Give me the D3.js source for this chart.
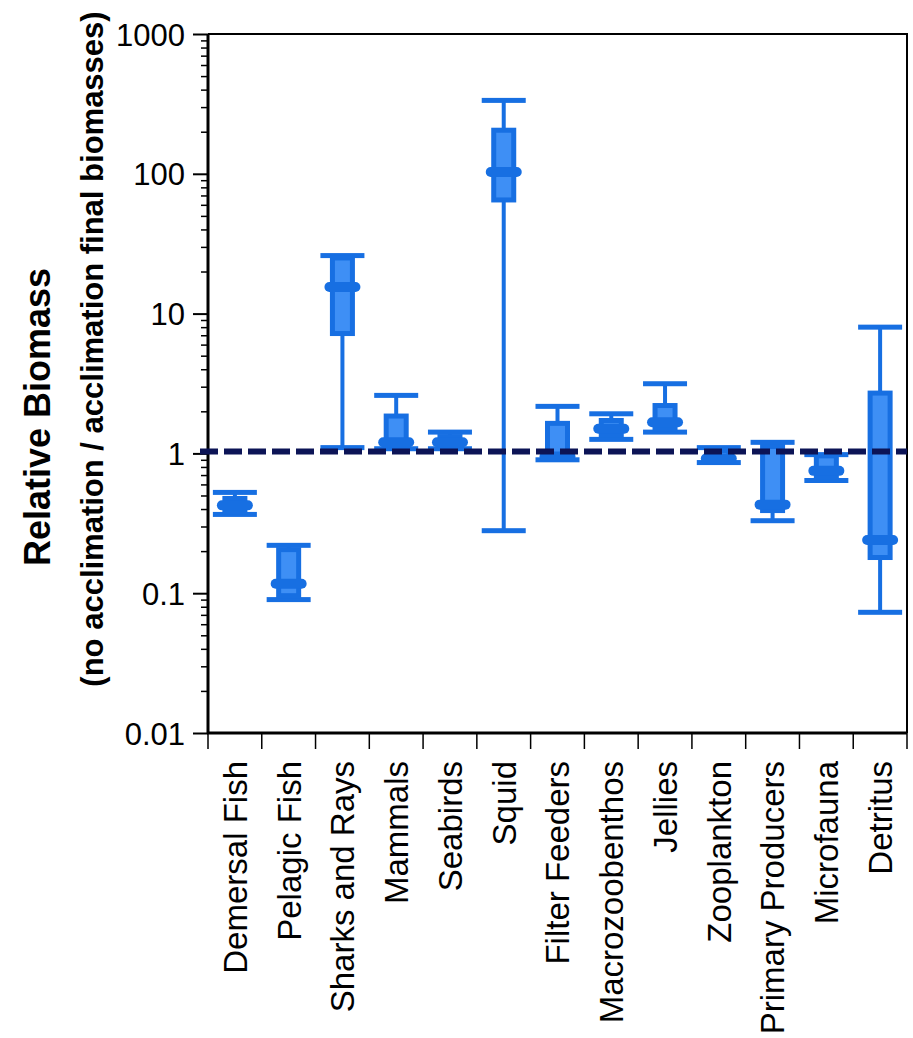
<!DOCTYPE html>
<meta charset="utf-8">
<style>
body { margin: 0; background: #fff; }
text { font-family: "Liberation Sans", Arial, Helvetica, sans-serif; fill: #000; }
.tick-label { font-size: 31px; }
.cat-label { font-size: 33px; }
.y-title { font-weight: bold; }
</style>
<svg width="913" height="1038"></svg>
<script src="https://cdn.jsdelivr.net/npm/d3@7"></script>
<script>

// data
var categories = ["Demersal Fish", "Pelagic Fish", "Sharks and Rays", "Mammals", "Seabirds", "Squid",
  "Filter Feeders", "Macrozoobenthos", "Jellies", "Zooplankton", "Primary Producers", "Microfauna", "Detritus"];
var whiskerLow  = [0.366, 0.090, 1.10, 1.08, 1.08, 0.28, 0.90, 1.26, 1.42, 0.86, 0.33, 0.64, 0.073];
var q1          = [0.378, 0.096, 7.2,  1.12, 1.12, 65,   0.92, 1.36, 1.50, 0.87, 0.39, 0.68, 0.18];
var median      = [0.425, 0.117, 15.5, 1.20, 1.20, 103,  0.95, 1.50, 1.67, 0.92, 0.43, 0.75, 0.24];
var q3          = [0.476, 0.205, 25,   1.85, 1.32, 205,  1.64, 1.72, 2.20, 1.05, 1.12, 0.96, 2.7];
var whiskerHigh = [0.526, 0.22,  26,   2.6,  1.42, 335,  2.17, 1.92, 3.15, 1.10, 1.20, 0.98, 8];
var yTickValues = [0.01, 0.1, 1, 10, 100, 1000];
var yTickLabels = ["0.01", "0.1", "1", "10", "100", "1000"];
var referenceLine = 1;

var svg = d3.select("svg"),
    plotLeft = 208, plotRight = 907, plotTop = 34, plotBottom = 733;

var dark = "#176fe2",
    light = "#3e8ff5";

var x = d3.scaleBand().domain(categories).range([plotLeft, plotRight]).padding(0);
var y = d3.scaleLog().domain([0.01, 1000]).range([plotBottom, plotTop]);

var boxes = categories.map(function(c, i) {
  return {name: c, lo: whiskerLow[i], q1: q1[i], med: median[i], q3: q3[i], hi: whiskerHigh[i]};
});

// frame (top + right)
svg.append("path")
    .attr("d", "M" + plotLeft + "," + plotTop + "H" + plotRight + "V" + plotBottom)
    .attr("fill", "none")
    .attr("stroke", "#000")
    .attr("stroke-width", 2);

// minor ticks
var minor = [];
yTickValues.slice(0, -1).forEach(function(d) {
  for (var k = 2; k < 10; k++) minor.push(d * k);
});

svg.append("g")
    .attr("transform", "translate(" + plotLeft + ",0)")
    .call(d3.axisLeft(y).tickValues(minor).tickSize(7).tickFormat(""))
    .call(function(g) { g.select(".domain").remove(); })
    .selectAll("line").attr("stroke-width", 1.5);

var yAxis = svg.append("g")
    .attr("transform", "translate(" + plotLeft + ",0)")
    .call(d3.axisLeft(y).tickValues(yTickValues).tickSize(15).tickPadding(8)
      .tickFormat(function(d, i) { return yTickLabels[i]; }));
yAxis.select(".domain").attr("stroke-width", 3).attr("d", "M0," + (plotBottom + 1) + "V" + plotTop);
yAxis.selectAll("line").attr("stroke-width", 2);
yAxis.selectAll("text").attr("class", "tick-label").attr("font-size", null).attr("font-family", null)
    .attr("dy", "0.36em");

// x axis
var xAxis = svg.append("g")
    .attr("transform", "translate(0," + plotBottom + ")")
    .call(d3.axisBottom(x).tickSize(0).tickPadding(0));
xAxis.select(".domain").attr("stroke-width", 3).attr("d", "M" + (plotLeft - 1) + ",0H" + plotRight);
xAxis.selectAll("text")
    .attr("class", "cat-label")
    .attr("font-size", null).attr("font-family", null)
    .attr("transform", "rotate(-90)")
    .attr("text-anchor", "end")
    .attr("x", -28)
    .attr("y", 0)
    .attr("dy", "0.36em");

xAxis.selectAll(".bound")
    .data(categories.map(function(c) { return x(c); }).concat([plotRight]))
  .enter().append("line")
    .attr("class", "bound")
    .attr("x1", function(d) { return d; })
    .attr("x2", function(d) { return d; })
    .attr("y1", 0)
    .attr("y2", 16)
    .attr("stroke", "#000")
    .attr("stroke-width", 1.5);

// y title
var title = svg.append("g")
    .attr("transform", "rotate(-90)");
title.append("text")
    .attr("class", "y-title")
    .attr("x", -417)
    .attr("y", 50)
    .attr("text-anchor", "middle")
    .attr("font-size", 36)
    .text("Relative Biomass");
title.append("text")
    .attr("class", "y-title")
    .attr("x", -349)
    .attr("y", 103)
    .attr("text-anchor", "middle")
    .attr("font-size", 31)
    .text("(no acclimation / acclimation final biomasses)");

// boxes
var capW = 44, boxW = 20, medW = 36, medH = 10;

var box = svg.append("g").selectAll("g")
    .data(boxes)
  .enter().append("g")
    .attr("transform", function(d) { return "translate(" + (x(d.name) + x.bandwidth() / 2) + ",0)"; });

box.append("line")
    .attr("y1", function(d) { return y(d.lo); })
    .attr("y2", function(d) { return y(d.hi); })
    .attr("stroke", dark)
    .attr("stroke-width", 4);

box.selectAll(".cap")
    .data(function(d) { return [d.lo, d.hi]; })
  .enter().append("rect")
    .attr("class", "cap")
    .attr("x", -capW / 2)
    .attr("y", function(v) { return y(v) - 2.5; })
    .attr("width", capW)
    .attr("height", 5)
    .attr("fill", dark);

box.append("rect")
    .attr("x", -boxW / 2)
    .attr("y", function(d) { return y(d.q3); })
    .attr("width", boxW)
    .attr("height", function(d) { return y(d.q1) - y(d.q3); })
    .attr("fill", light)
    .attr("stroke", dark)
    .attr("stroke-width", 5);

box.append("rect")
    .attr("x", -medW / 2)
    .attr("y", function(d) { return y(d.med) - medH / 2; })
    .attr("width", medW)
    .attr("height", medH)
    .attr("rx", 5)
    .attr("fill", dark);

// reference line
svg.append("line")
    .attr("x1", plotLeft - 8)
    .attr("x2", plotRight)
    .attr("y1", y(referenceLine) - 2)
    .attr("y2", y(referenceLine) - 2)
    .attr("stroke", "#0c1456")
    .attr("stroke-width", 6)
    .attr("stroke-dasharray", "18,6");

</script>
